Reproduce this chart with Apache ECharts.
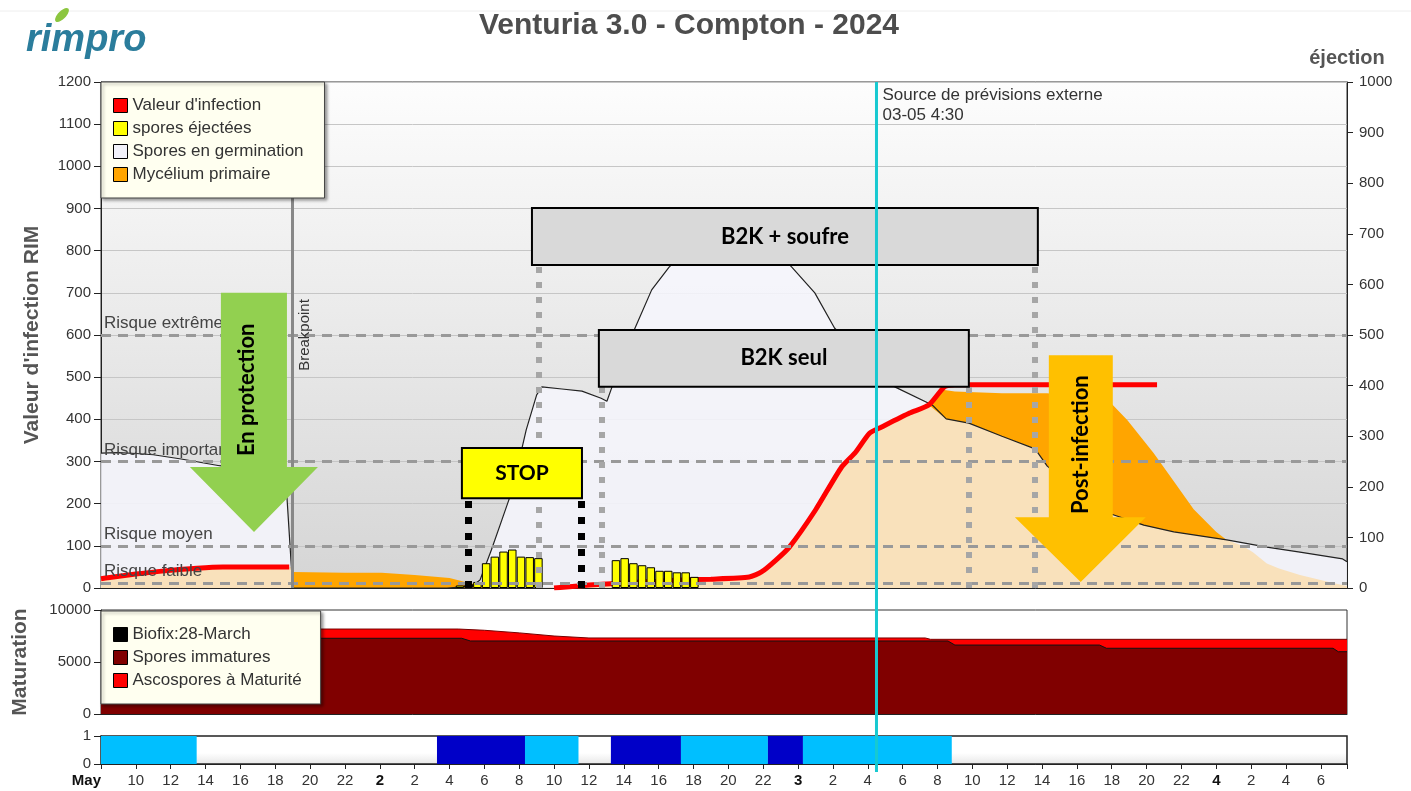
<!DOCTYPE html>
<html>
<head>
<meta charset="utf-8">
<title>Venturia 3.0 - Compton - 2024</title>
<script src="https://cdn.jsdelivr.net/npm/echarts@6.0.0/dist/echarts.min.js"></script>
<style>
  html, body { margin: 0; padding: 0; background: #fff; }
  #chart { width: 1411px; height: 791px; }
</style>
</head>
<body>
<div id="chart"></div>
<script>
// axe des x : heures depuis le 1er mai 00:00
const X_MIN = 8;
const X_MAX = 79.5;

// Valeur d'infection (axe gauche, RIM)
const infection = [
  [8, 22], [8.5, 25], [10, 33], [11.5, 40], [13.5, 47], [15, 50], [18.8, 50],
  [26, '-'],
  [34, 0], [36, 7], [38, 12], [40, 16], [41.3, 19], [43, 21], [45.2, 26], [45.9, 38],
  [46.7, 65], [47.5, 97], [49, 185], [50.5, 287], [51.3, 322], [52.1, 367], [52.8, 382],
  [54.4, 415], [55.5, 434], [56.4, 477], [57, 482], [68.6, 482]
];

// zone claire sous la valeur d'infection
const infectedArea = [
  [8, 22], [8.5, 25], [10, 33], [11.5, 40], [13.5, 47], [15, 50], [18.9, 50], [19, 0],
  [33.5, 0], [34, 2], [36, 7], [38, 12], [40, 16], [41.3, 19], [43, 21], [45.2, 26], [45.9, 38],
  [46.7, 65], [47.5, 97], [49, 185], [50.5, 287], [51.3, 322], [52.1, 367], [52.8, 382],
  [54.4, 415], [55.5, 434], [56.5, 401], [57.8, 391], [59.7, 360], [61.6, 330], [62.3, 289],
  [64.3, 220], [66, 175], [67.8, 149], [69.6, 133], [72.6, 114], [73.5, 100], [74.1, 85],
  [74.9, 58], [75.6, 46], [76.8, 31], [78.7, 12], [79.5, 5]
];

// Spores en germination
const germination = [
  [8, 320], [9, 321], [10, 319], [11, 316], [12.6, 306], [14.8, 290], [16.5, 280], [18.2, 268],
  [18.67, 216], [19, 0],
  [27.85, 0], [28.6, 2], [29.3, 5], [29.75, 19], [30.4, 90], [31, 161], [31.6, 232], [32.4, 375],
  [33, 458], [33.3, 477], [34.45, 472], [35.6, 467], [36.7, 450], [37.03, 443], [37.3, 474],
  [38, 553], [38.64, 616], [39.6, 707], [40.6, 761], [41.6, 800], [42.7, 835], [44.1, 852],
  [45.5, 840], [46.7, 800], [47.64, 761], [48.96, 700], [50.1, 616], [51.8, 548], [53.55, 477],
  [55.7, 434], [56.5, 401], [57.8, 391], [59.7, 360], [61.6, 330], [62.3, 289], [64.3, 220],
  [66, 175], [67.84, 149], [69.56, 133], [72.6, 114], [74.9, 97], [76.8, 85], [79.25, 69], [79.5, 62]
];

// Mycélium primaire
const mycelium = [
  [19, 38], [22, 36], [24.1, 36], [26, 31], [28, 24], [28.9, 14], [29.7, 7], [30.2, 0],
  [55, 0], [55.5, 434], [56.3, 470], [57, 466], [59.7, 462], [62.3, 462], [63.5, 456],
  [65.95, 439], [66.9, 398], [68.4, 320], [69.6, 251], [70.7, 187], [72, 133], [72.6, 114], [72.7, 0]
];

// spores éjectées (axe droit), pas de 30 min
const ejected = [
  [28.6, 5], [29.1, 8], [29.6, 12], [30.1, 49], [30.6, 62], [31.1, 72], [31.6, 76], [32.1, 62],
  [32.6, 61], [33.1, 59],
  [37.55, 55], [38.05, 59], [38.55, 49], [39.05, 45], [39.55, 41], [40.05, 34], [40.55, 34],
  [41.05, 31], [41.55, 31], [42.05, 22]
];

// Maturation
const totalSpores = [
  [8, 8170], [28.5, 8170], [30, 8050], [32, 7800], [34, 7500], [36, 7310], [55.3, 7310],
  [55.6, 7180], [79.5, 7180]
];
const immatureSpores = [
  [8, 7280], [28.7, 7280], [29.2, 7020], [56.6, 7020], [57, 6630], [65.3, 6630], [65.7, 6320],
  [78.7, 6320], [79, 5990], [79.5, 5990]
];

// bande du bas : [début, fin, type] 0 = clair, 1 = foncé
const wetness = [
  [8, 13.49, 0], [27.28, 32.33, 1], [32.33, 35.4, 0], [37.26, 41.28, 1],
  [41.28, 46.27, 0], [46.27, 48.28, 1], [48.28, 56.82, 0]
];
const wetColors = ['#00bfff', '#0000c8'];

// niveaux de risque
const riskLevels = [
  { name: 'Risque extrême', value: 600 },
  { name: 'Risque important', value: 300 },
  { name: 'Risque moyen', value: 100 },
  { name: 'Risque faible', value: 12 }
];

const BREAKPOINT = 19;
const FORECAST = 52.5;

const FONT = "'Liberation Sans', Arial, sans-serif";
const BOLD = "Lato, 'Open Sans', sans-serif";

// annotations (coordonnées en heures / valeur RIM)
const boxes = [
  { name: 'B2K + soufre', from: [32.73, 901], to: [61.76, 766], color: '#d9d9d9' },
  { name: 'B2K seul', from: [36.57, 612], to: [57.8, 477], color: '#d9d9d9' },
  { name: 'STOP', from: [28.71, 332], to: [35.6, 213], color: '#ffff00' }
];
const greyGuides = [[33.13, 766], [61.59, 766], [36.74, 477], [57.8, 477]];
const blackGuides = [[29.05, 213], [35.54, 213]];
const arrows = [
  { text: 'En protection', color: '#92d050', shaft: [14.88, 18.67], top: 700, base: 287,
    head: [13.1, 20.45], tip: [16.78, 133], textAt: [16.4, 470] },
  { text: 'Post-infection', color: '#ffc000', shaft: [62.39, 66.06], top: 552, base: 168,
    head: [60.44, 67.95], tip: [64.22, 14], textAt: [64.25, 340] }
];

const chart = echarts.init(document.getElementById('chart'));

const xAxisBase = { type: 'value', min: X_MIN, max: X_MAX, interval: 2, splitLine: { show: false } };
const plain = v => String(v);

const option = {
  animation: false,
  backgroundColor: '#fff',
  textStyle: { fontFamily: FONT },
  grid: [
    { left: 101, right: 64, top: 82, height: 506, show: true, outerBoundsMode: 'none',
      borderColor: '#333', borderWidth: 1,
      backgroundColor: new echarts.graphic.LinearGradient(0, 0, 0, 1, [
        { offset: 0, color: '#fdfdfd' }, { offset: 1, color: '#d5d5d5' }]) },
    { left: 101, right: 64, top: 610, height: 104, show: true, outerBoundsMode: 'none',
      borderColor: '#333', borderWidth: 1, backgroundColor: '#fff' },
    { left: 101, right: 64, top: 736, height: 28, show: true, outerBoundsMode: 'none',
      borderColor: '#222', borderWidth: 1.5,
      backgroundColor: new echarts.graphic.LinearGradient(0, 0, 0, 1, [
        { offset: 0, color: '#fff' }, { offset: 0.6, color: '#fff' }, { offset: 1, color: '#e6e6e6' }]) }
  ],
  xAxis: [
    Object.assign({ gridIndex: 0, axisLine: { show: true, lineStyle: { color: '#222' } },
      axisTick: { show: false }, axisLabel: { show: false } }, xAxisBase),
    Object.assign({ gridIndex: 1, axisLine: { show: true, lineStyle: { color: '#222' } },
      axisTick: { show: false }, axisLabel: { show: false } }, xAxisBase),
    Object.assign({ gridIndex: 2,
      axisLine: { show: true, lineStyle: { color: '#222' } },
      axisTick: { show: true, length: 5, lineStyle: { color: '#222' } },
      axisLabel: {
        show: true, fontSize: 15, color: '#333', margin: 9, alignMinLabel: 'right',
        formatter: function (v) {
          const h = Math.round(v * 100) / 100;
          if (h === X_MIN) return '{b|May}';
          if (h % 2 !== 0) return '';
          if (h % 24 === 0) return '{b|' + (h / 24 + 1) + '}';
          return String(h % 24);
        },
        rich: { b: { fontWeight: 'bold', fontSize: 15, color: '#111' } }
      } }, xAxisBase)
  ],
  yAxis: [
    { gridIndex: 0, type: 'value', min: 0, max: 1200, interval: 100,
      name: "Valeur d'infection RIM", nameLocation: 'middle', nameGap: 58,
      nameTextStyle: { fontSize: 21, fontWeight: 'bold', color: '#555' },
      axisLine: { show: true, lineStyle: { color: '#222' } },
      axisTick: { show: true, length: 7, lineStyle: { color: '#222' } },
      axisLabel: { fontSize: 15, color: '#333', margin: 10, formatter: plain },
      splitLine: { show: true, lineStyle: { color: '#c6c6c6', width: 1 } } },
    { gridIndex: 0, type: 'value', position: 'right', min: 0, max: 1000, interval: 100,
      name: 'éjection', nameLocation: 'end', nameGap: 14,
      nameTextStyle: { fontSize: 20, fontWeight: 'bold', color: '#555' },
      axisLine: { show: true, lineStyle: { color: '#222' } },
      axisTick: { show: true, length: 6, lineStyle: { color: '#222' } },
      axisLabel: { fontSize: 15, color: '#333', margin: 12, formatter: plain },
      splitLine: { show: false } },
    { gridIndex: 1, type: 'value', min: 0, max: 10000, interval: 5000,
      name: 'Maturation', nameLocation: 'middle', nameGap: 70,
      nameTextStyle: { fontSize: 21, fontWeight: 'bold', color: '#555' },
      axisLine: { show: true, lineStyle: { color: '#222' } },
      axisTick: { show: true, length: 7, lineStyle: { color: '#222' } },
      axisLabel: { fontSize: 15, color: '#333', margin: 10, formatter: plain },
      splitLine: { show: false } },
    { gridIndex: 2, type: 'value', min: 0, max: 1, interval: 1,
      axisLine: { show: true, lineStyle: { color: '#222' } },
      axisTick: { show: true, length: 7, lineStyle: { color: '#222' } },
      axisLabel: { fontSize: 15, color: '#333', margin: 10, formatter: plain },
      splitLine: { show: false } }
  ],
  legend: [
    { left: 101, top: 82, orient: 'vertical', icon: 'rect', selectedMode: false, z: 50,
      backgroundColor: '#fffff0', borderColor: '#444', borderWidth: 1,
      shadowColor: 'rgba(0,0,0,0.35)', shadowBlur: 3, shadowOffsetX: 2, shadowOffsetY: 2,
      padding: [15, 21, 15, 12], itemWidth: 14, itemHeight: 14, itemGap: 6,
      textStyle: { fontSize: 17, lineHeight: 17, color: '#333', fontFamily: FONT },
      data: [
        { name: "Valeur d'infection", itemStyle: { color: '#ff0000', borderColor: '#000', borderWidth: 1 } },
        { name: 'spores éjectées', itemStyle: { color: '#ffff00', borderColor: '#000', borderWidth: 1 } },
        { name: 'Spores en germination', itemStyle: { color: '#f2f2fa', borderColor: '#000', borderWidth: 1 } },
        { name: 'Mycélium primaire', itemStyle: { color: '#ffa500', borderColor: '#000', borderWidth: 1 } }
      ] },
    { left: 101, top: 611, orient: 'vertical', icon: 'rect', selectedMode: false, z: 50,
      backgroundColor: '#fffff0', borderColor: '#444', borderWidth: 1,
      shadowColor: 'rgba(0,0,0,0.35)', shadowBlur: 3, shadowOffsetX: 2, shadowOffsetY: 2,
      padding: [15, 19, 15, 12], itemWidth: 14, itemHeight: 14, itemGap: 6,
      textStyle: { fontSize: 17, lineHeight: 17, color: '#333', fontFamily: FONT },
      data: [
        { name: 'Biofix:28-March', itemStyle: { color: '#000', borderColor: '#000', borderWidth: 1 } },
        { name: 'Spores immatures', itemStyle: { color: '#800000', borderColor: '#000', borderWidth: 1 } },
        { name: 'Ascospores à Maturité', itemStyle: { color: '#ff0000', borderColor: '#000', borderWidth: 1 } }
      ] }
  ],
  series: [
    { name: 'Spores en germination', type: 'line', xAxisIndex: 0, yAxisIndex: 0, z: 2,
      data: germination, showSymbol: false, color: '#f2f2fa',
      lineStyle: { width: 0 }, areaStyle: { color: 'rgba(246,246,253,0.85)', opacity: 1 } },
    { name: 'Mycélium primaire', type: 'line', xAxisIndex: 0, yAxisIndex: 0, z: 3,
      data: mycelium, showSymbol: false, color: '#ffa500',
      lineStyle: { width: 0 }, areaStyle: { color: '#ffa500', opacity: 1 } },
    { name: 'infected', type: 'line', xAxisIndex: 0, yAxisIndex: 0, z: 4,
      data: infectedArea, showSymbol: false, color: '#f9e1bb',
      lineStyle: { width: 0 }, areaStyle: { color: '#f9e1bb', opacity: 1 } },
    { name: 'germLine', type: 'line', xAxisIndex: 0, yAxisIndex: 0, z: 5,
      data: germination, showSymbol: false, lineStyle: { width: 1.2, color: '#222' } },
    { name: "Valeur d'infection", type: 'line', xAxisIndex: 0, yAxisIndex: 0, z: 6,
      data: infection, showSymbol: false, smooth: 0.2, color: '#ff0000',
      lineStyle: { width: 5, color: '#ff0000' } },
    { name: 'spores éjectées', type: 'bar', xAxisIndex: 0, yAxisIndex: 1, z: 7,
      data: ejected, barWidth: 8.5, color: '#ffff00',
      itemStyle: { color: '#ffff00', borderColor: '#000', borderWidth: 1 } },
    { name: 'annotations', type: 'line', xAxisIndex: 0, yAxisIndex: 0, data: [],
      markLine: {
        z: 10, silent: true, symbol: ['none', 'none'], animation: false,
        data: riskLevels.map(r => ({
          yAxis: r.value, name: r.name,
          lineStyle: { color: '#999', width: 3, type: [10, 7] },
          label: { show: true, position: 'insideStartTop', formatter: '{b}', distance: 3,
            fontSize: 17, color: '#444', fontFamily: FONT }
        })).concat([
          { xAxis: BREAKPOINT, lineStyle: { color: '#888', width: 3, type: 'solid' },
            label: { show: true, position: 'insideMiddleBottom', formatter: 'Breakpoint',
              fontSize: 15, color: '#333', distance: 5, fontFamily: FONT } }
        ]).concat(greyGuides.map(g => [
          { coord: [g[0], 0], lineStyle: { color: '#a6a6a6', width: 6, type: [6, 9] }, label: { show: false } },
          { coord: [g[0], g[1]] }
        ])).concat(blackGuides.map(g => [
          { coord: [g[0], 0], lineStyle: { color: '#000', width: 7, type: [7, 9] }, label: { show: false } },
          { coord: [g[0], g[1]] }
        ]))
      },
      markArea: {
        z: 20, silent: true,
        data: boxes.map(b => [
          { name: b.name, coord: b.from,
            itemStyle: { color: b.color, borderColor: '#000', borderWidth: 2, opacity: 1 },
            label: { show: true, position: 'inside', fontSize: b.name === 'STOP' ? 21 : 22,
              fontWeight: 'bold', color: '#000', fontFamily: BOLD } },
          { coord: b.to }
        ])
      } },
    { name: 'Ascospores à Maturité', type: 'line', xAxisIndex: 1, yAxisIndex: 2, z: 2,
      data: totalSpores, showSymbol: false, color: '#ff0000',
      lineStyle: { width: 1, color: '#700' }, areaStyle: { color: '#ff0000', opacity: 1 } },
    { name: 'Spores immatures', type: 'line', xAxisIndex: 1, yAxisIndex: 2, z: 3,
      data: immatureSpores, showSymbol: false, color: '#800000',
      lineStyle: { width: 1, color: '#111' }, areaStyle: { color: '#800000', opacity: 1 } },
    { name: 'Biofix:28-March', type: 'line', xAxisIndex: 1, yAxisIndex: 2, data: [], color: '#000' },
    { name: 'wetness', type: 'custom', xAxisIndex: 2, yAxisIndex: 3, data: wetness,
      encode: { x: [0, 1] },
      renderItem: function (params, api) {
        const s = api.coord([api.value(0), 1]);
        const e = api.coord([api.value(1), 0]);
        return { type: 'rect', shape: { x: s[0], y: s[1], width: e[0] - s[0], height: e[1] - s[1] },
          style: { fill: wetColors[api.value(2)] } };
      } }
  ]
};

chart.setOption(option);

// annotations en pixels, calculées à partir des axes
const P = (h, v) => chart.convertToPixel({ xAxisIndex: 0, yAxisIndex: 0 }, [h, v]);
const graphics = [];

graphics.push({ type: 'line', shape: { x1: 0, y1: 11, x2: 1411, y2: 11 },
  style: { stroke: '#eeeeee', lineWidth: 1 }, z: 1 });
graphics.push({ type: 'text', x: 689, y: 26, z: 60,
  style: { text: 'Venturia 3.0 - Compton - 2024', align: 'center', verticalAlign: 'middle',
    font: 'bold 30px ' + FONT, fill: '#4d4d4d' } });
graphics.push({ type: 'text', x: 26, y: 41, z: 60,
  style: { text: 'rimpro', align: 'left', verticalAlign: 'middle',
    font: 'italic bold 38px ' + FONT, fill: '#2b7d9c' } });
graphics.push({ type: 'ellipse', x: 62, y: 15, rotation: 0.8, z: 60,
  shape: { cx: 0, cy: 0, rx: 9, ry: 4 }, style: { fill: '#8cc63f' } });

arrows.forEach(a => {
  const tl = P(a.shaft[0], a.top), tr = P(a.shaft[1], a.top);
  const bl = P(a.shaft[0], a.base), br = P(a.shaft[1], a.base);
  const hl = P(a.head[0], a.base), hr = P(a.head[1], a.base);
  const tip = P(a.tip[0], a.tip[1]);
  graphics.push({ type: 'polygon', z: 30, shape: { points: [tl, tr, br, hr, tip, hl, bl] },
    style: { fill: a.color } });
  const t = P(a.textAt[0], a.textAt[1]);
  graphics.push({ type: 'text', x: t[0], y: t[1], rotation: Math.PI / 2, z: 31,
    style: { text: a.text, align: 'center', verticalAlign: 'middle',
      font: 'bold 22px ' + BOLD, fill: '#000' } });
});

const fTop = P(FORECAST, 1200);
const fBottom = chart.convertToPixel({ xAxisIndex: 2, yAxisIndex: 3 }, [FORECAST, 0]);
graphics.push({ type: 'line', z: 40,
  shape: { x1: fTop[0], y1: fTop[1], x2: fTop[0], y2: fBottom[1] + 8 },
  style: { stroke: '#17c9d1', lineWidth: 3 } });
graphics.push({ type: 'text', x: fTop[0] + 6, y: fTop[1] + 3, z: 40,
  style: { text: 'Source de prévisions externe\n03-05 4:30', align: 'left', verticalAlign: 'top',
    font: '17px ' + FONT, lineHeight: 20, fill: '#333' } });

chart.setOption({ graphic: graphics });
</script>
</body>
</html>
